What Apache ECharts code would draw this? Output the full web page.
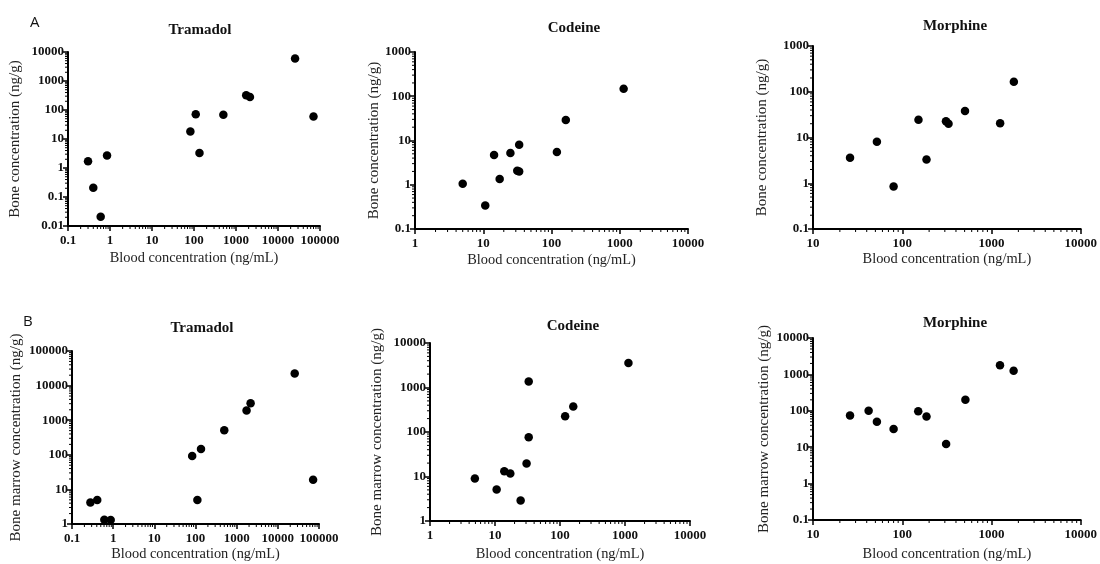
<!DOCTYPE html>
<html>
<head>
<meta charset="utf-8">
<script src="https://cdn.jsdelivr.net/npm/echarts@6/dist/echarts.min.js"></script>
<style>
html,body{margin:0;padding:0;background:#fff;}
#c{width:1100px;height:564px;}
</style>
</head>
<body>
<div id="c"></div>
<script>
// ---- Data ----
const panelLetters = ['A', 'B'];
const drugs = ['Tramadol', 'Codeine', 'Morphine'];
const xAxisName = 'Blood concentration (ng/mL)';
const yNameBone = 'Bone concentration (ng/g)';
const yNameMarrow = 'Bone marrow concentration (ng/g)';

// A: bone
const tramadolBoneBlood = [0.3, 0.4, 0.6, 0.85, 82, 110, 135, 500, 1750, 2150, 25500, 70000];
const tramadolBone      = [1.7, 0.21, 0.021, 2.7, 18, 72, 3.3, 68, 320, 280, 6000, 60];
const codeineBoneBlood  = [5.0, 10.7, 14.4, 17.4, 25, 31.5, 33.6, 33.6, 120, 162, 1140];
const codeineBone       = [1.05, 0.34, 4.7, 1.35, 5.2, 2.08, 1.99, 8.0, 5.5, 29, 148];
const morphineBoneBlood = [26, 52, 80, 152, 187, 309, 330, 505, 1250, 1780];
const morphineBone      = [3.6, 8.1, 0.85, 24.5, 3.3, 22.6, 20, 38, 20.5, 166];

// B: bone marrow
const tramadolMarrowBlood = [0.28, 0.41, 0.61, 0.87, 83, 111, 136, 500, 1740, 2180, 25700, 72000];
const tramadolMarrow      = [4.2, 4.9, 1.33, 1.3, 93, 4.9, 147, 510, 1910, 3100, 22300, 19];
const codeineMarrowBlood  = [4.9, 10.6, 13.9, 17.2, 24.8, 30.6, 33, 33, 120, 160, 1130];
const codeineMarrow       = [9.0, 5.1, 13.2, 11.7, 2.9, 19.7, 76, 1365, 226, 373, 3540];
const morphineMarrowBlood = [26, 42, 52, 80, 151, 187, 310, 510, 1245, 1770];
const morphineMarrow      = [74, 100, 50, 31.6, 97, 70, 12.3, 202, 1780, 1260];

// axis ranges
const xRanges = [[0.1, 100000], [1, 10000], [10, 10000], [0.1, 100000], [1, 10000], [10, 10000]];
const yRanges = [[0.01, 10000], [0.1, 1000], [0.1, 1000], [1, 100000], [1, 10000], [0.1, 10000]];

// ---- Layout ----
const grids = [
  {left: 68,  top: 52,  width: 252, height: 174},
  {left: 415, top: 52,  width: 273, height: 177},
  {left: 813, top: 46,  width: 269, height: 183},
  {left: 72,  top: 351, width: 247, height: 173},
  {left: 430, top: 343, width: 260, height: 178},
  {left: 813, top: 338, width: 269, height: 182}
];
const titlePos = [[195, 18], [569, 16], [950, 14], [197, 316], [568, 314], [950, 311]];
const yNameGaps = [45, 30, 43, 48, 45, 41];
const xNameGaps = [25, 24, 23, 23, 26, 27];

const serif = "'Liberation Serif', 'Times New Roman', serif";
const xs = [tramadolBoneBlood, codeineBoneBlood, morphineBoneBlood, tramadolMarrowBlood, codeineMarrowBlood, morphineMarrowBlood];
const ys = [tramadolBone, codeineBone, morphineBone, tramadolMarrow, codeineMarrow, morphineMarrow];

function fmt(v) { return String(+Number(v).toPrecision(6)); }

function minorValues(range) {
  const out = [];
  const a = Math.round(Math.log10(range[0])), b = Math.round(Math.log10(range[1]));
  for (let n = a; n < b; n++) {
    for (let k = 2; k <= 9; k++) out.push(+(k * Math.pow(10, n)).toPrecision(6));
  }
  return out;
}

const option = {
  backgroundColor: '#ffffff',
  animation: false,
  title: [],
  grid: [],
  xAxis: [],
  yAxis: [],
  series: []
};

// panel letters
option.title.push({text: panelLetters[0], left: 25, top: 10,
  textStyle: {fontFamily: "'Open Sans', 'DejaVu Sans', sans-serif", fontSize: 15, fontWeight: 'normal', color: '#111'}});
option.title.push({text: panelLetters[1], left: 18, top: 309,
  textStyle: {fontFamily: "'Open Sans', 'DejaVu Sans', sans-serif", fontSize: 15, fontWeight: 'normal', color: '#111'}});

for (let i = 0; i < 6; i++) {
  const g = grids[i];
  option.grid.push(Object.assign({containLabel: false}, g));
  option.title.push({
    text: drugs[i % 3], left: titlePos[i][0], top: titlePos[i][1], textAlign: 'center',
    textStyle: {fontFamily: serif, fontSize: 15, fontWeight: 'bold', color: '#111'}
  });
  const axisCommon = {
    type: 'log', logBase: 10, gridIndex: i,
    axisLine: {show: true, onZero: false, lineStyle: {color: '#000', width: 2}},
    axisTick: {show: true, inside: false, length: 5, lineStyle: {color: '#000', width: 1.5}},
    splitLine: {show: false},
    axisLabel: {fontFamily: serif, fontSize: 13, fontWeight: 'bold', color: '#111', formatter: fmt},
    nameLocation: 'middle'
  };
  option.xAxis.push(Object.assign({}, axisCommon, {
    min: xRanges[i][0], max: xRanges[i][1], name: xAxisName, nameGap: xNameGaps[i],
    nameTextStyle: {fontFamily: serif, fontSize: 14.4, color: '#222'},
    axisLabel: Object.assign({}, axisCommon.axisLabel, {margin: 8})
  }));
  option.yAxis.push(Object.assign({}, axisCommon, {
    min: yRanges[i][0], max: yRanges[i][1], name: i < 3 ? yNameBone : yNameMarrow, nameGap: yNameGaps[i],
    nameTextStyle: {fontFamily: serif, fontSize: 15, color: '#222'},
    axisLabel: Object.assign({}, axisCommon.axisLabel, {margin: 4})
  }));
  option.series.push({
    type: 'scatter', xAxisIndex: i, yAxisIndex: i,
    symbol: 'circle', symbolSize: 8.5,
    itemStyle: {color: '#000', opacity: 1},
    data: xs[i].map((x, j) => [x, ys[i][j]])
  });
  // minor ticks drawn through the axes' scales
  const mx = minorValues(xRanges[i]).map(v => [v, yRanges[i][0], 0]);
  const my = minorValues(yRanges[i]).map(v => [xRanges[i][0], v, 1]);
  option.series.push({
    type: 'custom', xAxisIndex: i, yAxisIndex: i, silent: true, clip: false,
    data: mx.concat(my),
    renderItem: function (params, api) {
      const p = api.coord([api.value(0), api.value(1)]);
      const isY = api.value(2) === 1;
      return {
        type: 'line',
        shape: isY ? {x1: p[0] - 3, y1: p[1], x2: p[0], y2: p[1]} : {x1: p[0], y1: p[1], x2: p[0], y2: p[1] + 3},
        style: {stroke: '#000', lineWidth: 1}
      };
    }
  });
}

const chart = echarts.init(document.getElementById('c'), null, {renderer: 'canvas'});
chart.setOption(option);
</script>
</body>
</html>
